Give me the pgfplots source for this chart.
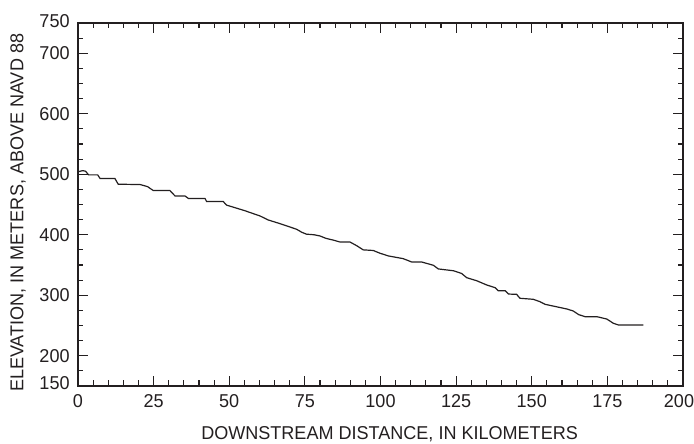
\documentclass[border=0pt]{standalone}
\usepackage{fontspec}
\setmainfont{Liberation Sans}[FakeStretch=0.97]
\usepackage{pgfplots}
\pgfplotsset{compat=1.18}
\definecolor{ink}{RGB}{35,31,32}

\begin{document}
\fontsize{18.6}{20}\selectfont
\begin{tikzpicture}
\useasboundingbox (-78pt,-58pt) rectangle (616pt,386pt);
\begin{axis}[
    name=ax,
    at={(0,0)}, anchor=south west,
    scale only axis,
    width=605pt, height=363pt,
    xmin=0, xmax=200,
    ymin=150, ymax=750,
    xtick={0,25,...,200},
    xticklabels={0,25,50,75,100,125,150,175,\hspace{-8pt}200},
    minor xtick={5,10,...,195},
    ytick={150,200,300,400,500,600,700,750},
    yticklabels={\raisebox{5pt}{150},200,300,400,500,600,700,\raisebox{4pt}{750}},
    minor ytick={175,225,250,275,325,350,375,425,450,475,525,550,575,625,650,675,725},
    tick align=inside,
    major tick length=10pt,
    minor tick length=5.5pt,
    every tick/.style={ink, line width=1.1pt},
    axis line style={ink, line width=1.3pt},
    tick label style={font=\fontsize{18.6}{20}\selectfont, text=ink},
    xticklabel style={yshift=-2pt},
    yticklabel style={xshift=-2pt},
    xlabel={DOWNSTREAM DISTANCE, IN KILOMETERS},
    ylabel={ELEVATION, IN METERS, ABOVE NAVD 88},
    label style={font=\fontsize{18.6}{20}\selectfont, text=ink},
    xlabel style={at={(axis description cs:0.515,0)}, anchor=base, yshift=-54pt},
    ylabel style={at={(axis description cs:-0.099,0.477)}, anchor=center},
]
\addplot[ink, line width=1.2pt] coordinates {
    (0,504) (1.5,506) (2.5,505) (3.5,499) (6.5,499) (7.3,493) (12.2,493)
    (13.3,483.5) (20.5,483) (22,481) (23,479.5) (24.9,473) (30.4,473)
    (32.1,464) (35.4,464) (36.5,460) (42,460) (42.5,455) (48,455)
    (49.1,449) (55,440) (60.2,431) (62.9,424.4) (67,418) (72.3,409)
    (74,404) (75.5,401) (78,400) (80,398) (82,394) (84.5,391) (86.6,388)
    (89.9,388) (92.1,382) (94.3,375) (97.6,374) (99.8,369.5) (102.6,365)
    (107.5,360.5) (110.3,355) (113.6,355) (117.5,349.5) (119.1,343.5)
    (124.1,340.5) (126.8,336) (128.5,329) (131.8,324) (135.1,317)
    (137.9,312.5) (138.9,307.5) (141.2,307.5) (142.3,302) (145,301.5)
    (146.1,295) (150.5,293.3) (152.7,289.4) (154.4,285) (161.6,277.3)
    (163.7,274) (165.5,268) (167.6,264.6) (171.5,264.6) (174.8,260.7)
    (177,253.6) (178.7,250.8) (186.9,250.8)
};
\end{axis}
\end{tikzpicture}
\end{document}
